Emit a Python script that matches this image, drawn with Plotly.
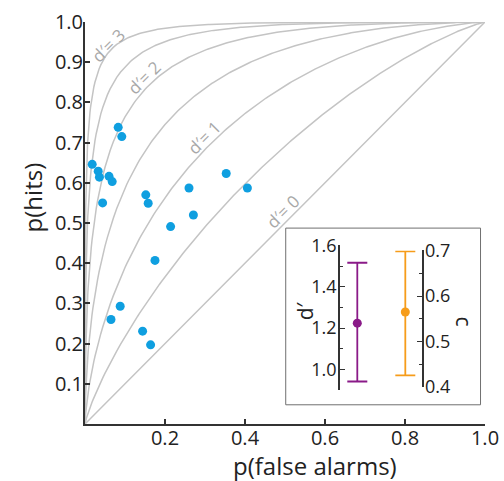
import numpy as np
import plotly.graph_objects as go
from statistics import NormalDist

# ---- data -------------------------------------------------------------
p_false_alarms = [0.083, 0.092, 0.018, 0.033, 0.036, 0.060, 0.068, 0.044,
                  0.152, 0.158, 0.260, 0.353, 0.406, 0.271, 0.214, 0.175,
                  0.088, 0.065, 0.144, 0.164]
p_hits = [0.738, 0.715, 0.646, 0.629, 0.614, 0.616, 0.603, 0.550,
          0.570, 0.549, 0.587, 0.623, 0.587, 0.520, 0.491, 0.407,
          0.293, 0.260, 0.231, 0.197]

# iso-sensitivity curves and the ones that carry a label
dprime_curves = [0, 0.5, 1, 1.5, 2, 2.5, 3]
dprime_labels = ["d′= 0", "d′= 1", "d′= 2", "d′= 3"]
label_fa = [0.495, 0.2975, 0.1475, 0.0575]
label_hit = [0.528, 0.713, 0.862, 0.942]

# summary statistics (mean with error range)
dprime_mean = 1.224
dprime_hi = 1.516
dprime_lo = 0.942
c_mean = 0.565
c_hi = 0.698
c_lo = 0.426

x_ticks = [0.2, 0.4, 0.6, 0.8, 1.0]
y_ticks = [0.1, 0.2, 0.3, 0.4, 0.5, 0.6, 0.7, 0.8, 0.9, 1.0]
dprime_ticks = [1.0, 1.2, 1.4, 1.6]
dprime_minor = [0.9, 1.1, 1.3, 1.5]
c_ticks = [0.4, 0.5, 0.6, 0.7]
c_minor = [0.45, 0.55, 0.65]

# ---- styling ----------------------------------------------------------
FONT = "Open Sans"
AXIS = "#333333"
CURVE = "#c4c4c4"
BLUE = "#0f9fe0"
PURPLE = "#8a1a88"
ORANGE = "#f69c1a"
TEXT = "#222222"

nd = NormalDist()
fa_grid = np.concatenate([np.logspace(-7, -1, 120), np.linspace(0.1, 1 - 1e-7, 200)])

fig = go.Figure()

for d in dprime_curves:
    hits = [nd.cdf(nd.inv_cdf(f) + d) for f in fa_grid]
    fig.add_trace(go.Scatter(
        x=[0.0] + list(fa_grid) + [1.0], y=[0.0] + hits + [1.0],
        mode="lines", line=dict(color=CURVE, width=1.5),
        hoverinfo="skip", showlegend=False, xaxis="x", yaxis="y"))

fig.add_trace(go.Scatter(
    x=p_false_alarms, y=p_hits, mode="markers",
    marker=dict(color=BLUE, size=9, line=dict(width=0)),
    showlegend=False, xaxis="x", yaxis="y"))

for txt, fx, hy in zip(dprime_labels, label_fa, label_hit):
    fig.add_annotation(x=fx, y=hy, xref="x", yref="y", text=txt,
                       showarrow=False, textangle=-45,
                       xanchor="center", yanchor="middle",
                       font=dict(family=FONT, size=17, color="#a8a8a8"))

# inset: d′ on its own axis
fig.add_trace(go.Scatter(
    x=[0.5], y=[dprime_mean], mode="markers",
    marker=dict(color=PURPLE, size=9),
    error_y=dict(type="data", array=[dprime_hi - dprime_mean],
                 arrayminus=[dprime_mean - dprime_lo],
                 color=PURPLE, thickness=1.8, width=10),
    showlegend=False, xaxis="x3", yaxis="y3"))

# inset: criterion c on its own axis
fig.add_trace(go.Scatter(
    x=[0.5], y=[c_mean], mode="markers",
    marker=dict(color=ORANGE, size=9),
    error_y=dict(type="data", array=[c_hi - c_mean],
                 arrayminus=[c_mean - c_lo],
                 color=ORANGE, thickness=1.8, width=10),
    showlegend=False, xaxis="x4", yaxis="y4"))

tick_font = dict(family=FONT, size=20, color=TEXT)
inset_font = dict(family=FONT, size=18, color=TEXT)

fig.update_layout(
    width=504, height=481,
    margin=dict(l=85, r=19, t=22, b=57, autoexpand=False),
    paper_bgcolor="white", plot_bgcolor="white",
    showlegend=False,
    xaxis=dict(range=[0, 1], domain=[0, 1], tickvals=x_ticks,
               ticktext=[f"{v:.1f}" for v in x_ticks], automargin=False,
               ticks="inside", ticklen=5, tickwidth=1.5, tickcolor=AXIS,
               ticklabelstandoff=-5,
               showline=True, linecolor=AXIS, linewidth=2,
               showgrid=False, zeroline=False, tickfont=tick_font),
    yaxis=dict(range=[0, 1], domain=[0, 1], tickvals=y_ticks,
               ticktext=[f"{v:.1f}" for v in y_ticks], automargin=False,
               ticks="inside", ticklen=5, tickwidth=1.5, tickcolor=AXIS,
               ticklabelstandoff=-4,
               showline=True, linecolor=AXIS, linewidth=2,
               showgrid=False, zeroline=False, tickfont=tick_font),
    # white panel behind the inset
    xaxis2=dict(domain=[0.5018, 0.9888], range=[0, 1], anchor="y2",
                visible=False, automargin=False),
    yaxis2=dict(domain=[0.0478, 0.4873], range=[0, 1], anchor="x2",
                visible=False, automargin=False),
    xaxis3=dict(domain=[0.6375, 0.724], range=[0, 1], anchor="y3",
                visible=False, automargin=False),
    yaxis3=dict(domain=[0.0841, 0.4443], range=[0.9, 1.6], anchor="x3",
                tickvals=dprime_ticks, ticktext=[f"{v:.1f}" for v in dprime_ticks],
                ticks="inside", ticklen=5, tickwidth=1.3, tickcolor=AXIS,
                ticklabelstandoff=-2,
                minor=dict(tickvals=dprime_minor, ticks="inside", ticklen=3,
                           tickwidth=1.3, tickcolor=AXIS),
                showline=True, linecolor=AXIS, linewidth=1.5, automargin=False,
                showgrid=False, zeroline=False, tickfont=inset_font),
    xaxis4=dict(domain=[0.7598, 0.84175], range=[0, 1], anchor="y4",
                visible=False, automargin=False),
    yaxis4=dict(domain=[0.0916, 0.4318], range=[0.4, 0.7], anchor="x4",
                side="right",
                tickvals=c_ticks, ticktext=[f"{v:.1f}" for v in c_ticks],
                ticks="inside", ticklen=5, tickwidth=1.3, tickcolor=AXIS,
                ticklabelstandoff=-2,
                minor=dict(tickvals=c_minor, ticks="inside", ticklen=3,
                           tickwidth=1.3, tickcolor=AXIS),
                showline=True, linecolor=AXIS, linewidth=1.5, automargin=False,
                showgrid=False, zeroline=False, tickfont=inset_font),
)

# grey frame round the inset
fig.add_shape(type="rect", xref="paper", yref="paper",
              x0=0.5018, x1=0.9888, y0=0.0478, y1=0.4873,
              line=dict(color="#707070", width=1), layer="above")

# axis titles
fig.add_annotation(x=-0.1325, y=0.5637, xref="paper", yref="paper",
                   xanchor="center", yanchor="middle",
                   text="p(hits)", showarrow=False, textangle=-90,
                   font=dict(family=FONT, size=24, color=TEXT))
fig.add_annotation(x=0.575, y=-0.103, xref="paper", yref="paper",
                   xanchor="center", yanchor="middle",
                   text="p(false alarms)", showarrow=False,
                   font=dict(family=FONT, size=24, color=TEXT))
fig.add_annotation(x=0.552, y=0.2825, xref="paper", yref="paper",
                   xanchor="center", yanchor="middle",
                   text="d′", showarrow=False, textangle=-90,
                   font=dict(family=FONT, size=21, color=TEXT))
fig.add_annotation(x=0.9475, y=0.255, xref="paper", yref="paper",
                   xanchor="center", yanchor="middle",
                   text="c", showarrow=False, textangle=90,
                   font=dict(family=FONT, size=21, color=TEXT))

fig.write_html("out.html")
